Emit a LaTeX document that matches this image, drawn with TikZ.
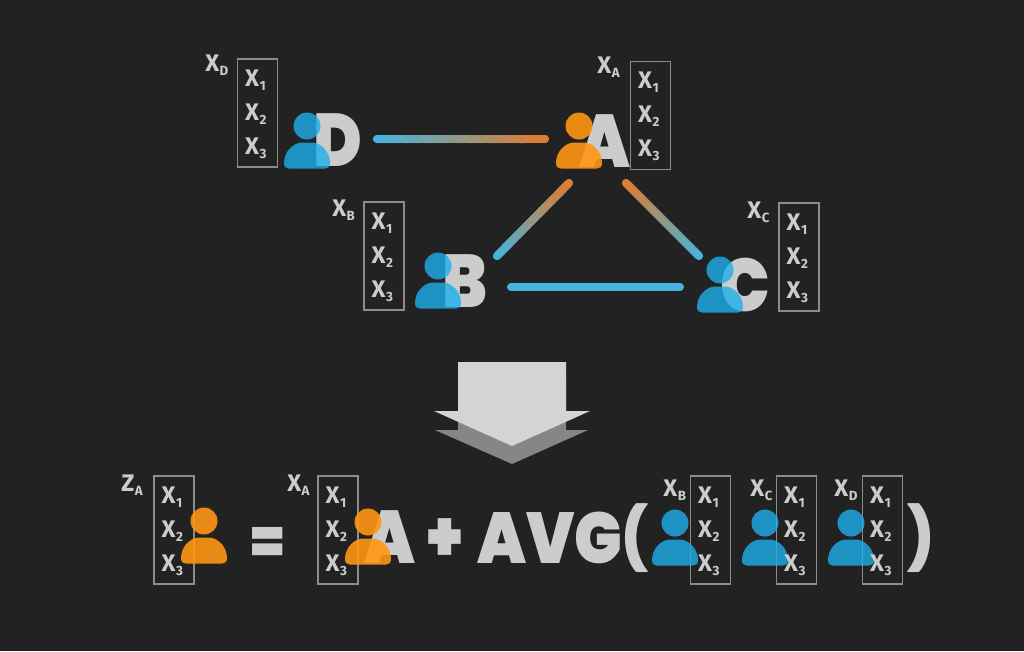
\documentclass[tikz,border=0pt]{standalone}
\usepackage{fontspec}
\usepackage{xcolor}
\usepackage{tikz}
\usetikzlibrary{calc}
\setmainfont{Fira Sans}
\newfontfamily\heavyfont[FakeStretch=0.88]{Poppins Black}
\definecolor{bgDark}{RGB}{34,34,34}
\definecolor{txtGray}{RGB}{204,204,204}
\definecolor{boxGray}{RGB}{140,140,140}
\definecolor{userBlue}{RGB}{30,175,235}
\definecolor{userOrange}{RGB}{255,150,20}
\definecolor{linkBlue}{RGB}{69,181,222}
\definecolor{linkOrange}{RGB}{224,123,48}
\newcommand{\varsub}[2]{#1\kern0.4pt\lower3pt\hbox{\fontsize{10}{10}\selectfont #2}}
\newcommand{\gradlink}[2]{%
  \draw[link,linkBlue] (#1) -- (#2);
  \foreach \t in {0,2,...,98}{
    \pgfmathtruncatemacro{\tn}{\t+2}
    \draw[link,color=linkOrange!\t!linkBlue] ($(#1)!\t/100!(#2)$) -- ($(#1)!\tn/100!(#2)$);
  }}
\begin{document}
\begin{tikzpicture}[x=0.75pt,y=-0.75pt,
  vecbox/.style={draw=boxGray,line width=0.9pt,minimum width=30pt,minimum height=81pt,inner sep=0pt},
  entry/.style={text=txtGray,font=\fontsize{18}{18}\selectfont\bfseries,inner sep=0pt,anchor=base west},
  varname/.style={text=txtGray,font=\fontsize{18}{18}\selectfont\bfseries,inner sep=0pt,anchor=base west},
  letter/.style={text=txtGray,font=\fontsize{56}{56}\selectfont\heavyfont,inner sep=0pt},
  link/.style={line width=6pt,line cap=round},
  blueuser/.style={fill=userBlue,fill opacity=0.8},
  orangeuser/.style={fill=userOrange,fill opacity=0.9},
  pics/user/.style={code={
    \fill[#1] (0,0) circle (13.5);
    \fill[#1] (-23,37) .. controls (-23,25) and (-13,16.5) .. (-5,16.5) -- (5,16.5)
      .. controls (13,16.5) and (23,25) .. (23,37) .. controls (23,41) and (21,42.5) .. (18,42.5)
      -- (-18,42.5) .. controls (-21,42.5) and (-23,41) .. (-23,37) -- cycle;
  }}]
  \fill[bgDark] (0,0) rectangle (1024,651);
  \useasboundingbox (0,0) rectangle (1024,651);
  % graph letters
  \node[letter] (letD) at (338,140) {D};
  \node[letter] (letA) at (605,141.5) {A};
  \node[letter] (letB) at (465,281.5) {B};
  \node[letter] (letC) at (745,284.5) {C};
  % links
  \coordinate (endDa) at (377,139);
  \coordinate (endAd) at (545,139);
  \coordinate (endAb) at (569,183);
  \coordinate (endBa) at (497,256);
  \coordinate (endAc) at (626,183);
  \coordinate (endCa) at (699,256);
  \coordinate (endBc) at (511,287);
  \coordinate (endCb) at (680,287);
  \gradlink{endDa}{endAd}
  \gradlink{endBa}{endAb}
  \gradlink{endCa}{endAc}
  \draw[link,linkBlue] (endBc) -- (endCb);
  % big arrow
  \fill[gray!95] (458,381) -- (566,381) -- (566,430) -- (588,430) -- (512,464) -- (435,430) -- (458,430) -- cycle;
  \fill[black!17] (458,362) -- (566,362) -- (566,411) -- (590,411) -- (512,446) -- (434,411) -- (458,411) -- cycle;
  % formula
  \node[letter] (letXa) at (390,537) {A};
  \node[letter,font=\fontsize{54}{54}\selectfont\heavyfont] (plus) at (445,540) {+};
  \node[letter,font=\fontsize{54}{54}\selectfont\heavyfont] (avg) at (550,538) {AVG};
  \node[letter,font=\fontsize{46}{46}\selectfont\heavyfont] (lpar) at (635,538) {(};
  \node[letter,font=\fontsize{46}{46}\selectfont\heavyfont] (rpar) at (921,538) {)};
  \node[letter,font=\fontsize{44}{44}\selectfont\heavyfont] (equal) at (267.5,544) {=};
  % vectors
  \foreach \nm/\x/\y in {boxD/257.5/113,boxA/650.5/115.5,boxB/384/256,boxC/799/257,boxZ/174/530,boxXa/338/530,boxXb/710.5/530,boxXc/796.5/530,boxXd/882.5/530}
    \node[vecbox] (\nm) at (\x,\y) {};
  % users
  \foreach \nm/\x/\y/\col in {D/307/126/blueuser,A/579/126/orangeuser,B/438/266/blueuser,C/720/270/blueuser,Z/204/521/orangeuser,Xa/368/522/orangeuser,Xb/675/523/blueuser,Xc/765/523/blueuser,Xd/851/523/blueuser}
    \pic (user\nm) at (\x,\y) {user=\col};
  % entries
  \foreach \nm in {boxD,boxA,boxB,boxC,boxZ,boxXa,boxXb,boxXc,boxXd}{
    \node[entry] (\nm1) at ($(\nm.west)+(8,-27)$) {\varsub{X}{1}};
    \node[entry] (\nm2) at ($(\nm.west)+(8,7)$) {\varsub{X}{2}};
    \node[entry] (\nm3) at ($(\nm.west)+(8,41)$) {\varsub{X}{3}};
  }
  % names
  \foreach \nm/\x/\y/\lab/\sb in {nD/205/71/X/D,nA/597/73/X/A,nB/332/216/X/B,nC/747/218/X/C,nZ/121/491/Z/A,nXa/287/491/X/A,nXb/663/496/X/B,nXc/750/496/X/C,nXd/834/496/X/D}
    \node[varname] (\nm) at (\x,\y) {\varsub{\lab}{\sb}};
\end{tikzpicture}
\end{document}
